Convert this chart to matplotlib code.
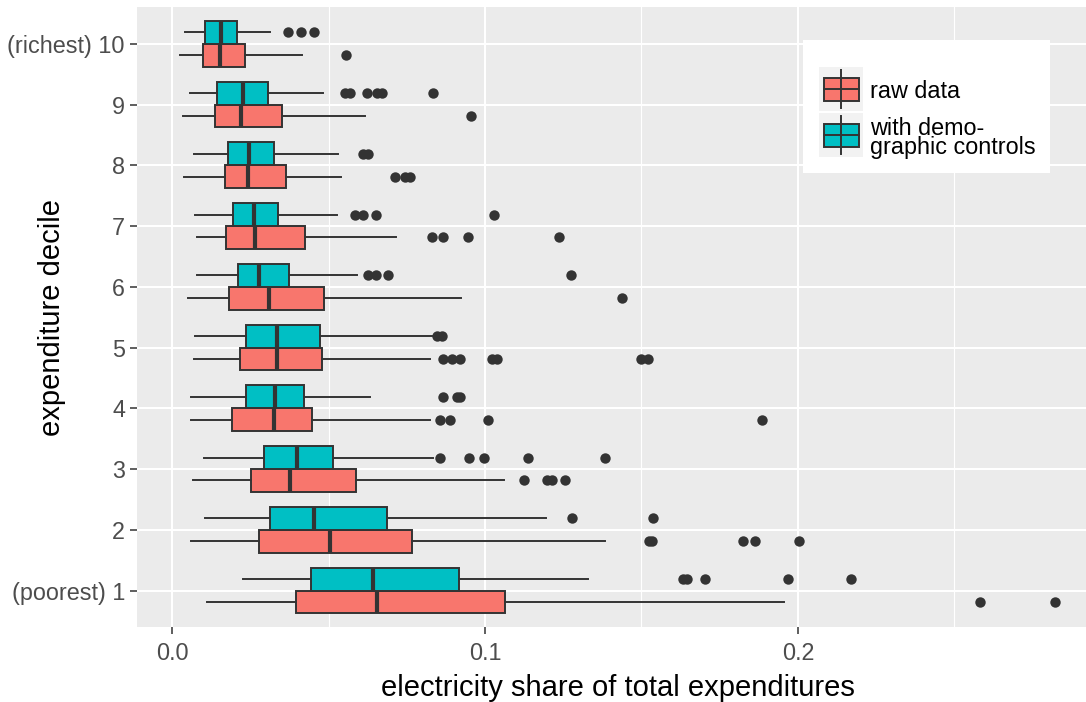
import numpy as np
import matplotlib.pyplot as plt
from matplotlib.patches import Rectangle
from matplotlib.lines import Line2D

plt.rcParams['font.family'] = ['Liberation Sans', 'DejaVu Sans']

# --------------------------------------------------
# data, deciles 1 (poorest) .. 10 (richest)
# --------------------------------------------------
deciles = np.arange(1, 11)
decile_labels = ["(poorest) 1", "2", "3", "4", "5", "6", "7", "8", "9", "(richest) 10"]
x_ticks = [0.0, 0.1, 0.2]
x_tick_labels = ["0.0", "0.1", "0.2"]

# raw data (red)
raw_whislo = [0.0111, 0.0061, 0.0066, 0.0061, 0.0068, 0.0049, 0.0079, 0.0038, 0.0033, 0.0026]
raw_q1 = [0.0395, 0.0278, 0.0251, 0.0190, 0.0215, 0.0182, 0.0173, 0.0167, 0.0135, 0.0098]
raw_med = [0.0654, 0.0503, 0.0377, 0.0324, 0.0334, 0.0310, 0.0265, 0.0242, 0.0220, 0.0153]
raw_q3 = [0.1064, 0.0766, 0.0588, 0.0446, 0.0478, 0.0486, 0.0425, 0.0363, 0.0350, 0.0231]
raw_whishi = [0.1956, 0.1383, 0.1062, 0.0824, 0.0824, 0.0923, 0.0715, 0.0540, 0.0617, 0.0414]
raw_fliers = [
    [0.2584, 0.2823],
    [0.1524, 0.1534, 0.1824, 0.1863, 0.2003],
    [0.1123, 0.1197, 0.1213, 0.1256],
    [0.0856, 0.0888, 0.1010, 0.1885],
    [0.0867, 0.0893, 0.0920, 0.1021, 0.1037, 0.1498, 0.1520],
    [0.1438],
    [0.0830, 0.0867, 0.0945, 0.1236],
    [0.0712, 0.0744, 0.0760],
    [0.0955],
    [0.0555],
]

# with demographic controls (teal)
ctl_whislo = [0.0226, 0.0103, 0.0100, 0.0061, 0.0071, 0.0079, 0.0071, 0.0068, 0.0058, 0.0042]
ctl_q1 = [0.0443, 0.0311, 0.0292, 0.0235, 0.0235, 0.0210, 0.0194, 0.0178, 0.0143, 0.0105]
ctl_med = [0.0641, 0.0454, 0.0398, 0.0329, 0.0336, 0.0278, 0.0262, 0.0244, 0.0226, 0.0156]
ctl_q3 = [0.0918, 0.0686, 0.0513, 0.0420, 0.0473, 0.0372, 0.0338, 0.0324, 0.0305, 0.0207]
ctl_whishi = [0.1330, 0.1194, 0.0833, 0.0633, 0.0830, 0.0592, 0.0528, 0.0531, 0.0483, 0.0313]
ctl_fliers = [
    [0.1632, 0.1645, 0.1703, 0.1967, 0.2169],
    [0.1277, 0.1538],
    [0.0856, 0.0949, 0.0995, 0.1138, 0.1383],
    [0.0867, 0.0910, 0.0920],
    [0.0845, 0.0862],
    [0.0624, 0.0651, 0.0691, 0.1275],
    [0.0585, 0.0611, 0.0652, 0.1027],
    [0.0611, 0.0624],
    [0.0553, 0.0569, 0.0622, 0.0654, 0.0670, 0.0833],
    [0.0370, 0.0412, 0.0454],
]

RED = "#F8766D"
TEAL = "#00BFC4"
DARK = "#333333"
PANEL = "#EBEBEB"


def make_stats(whislo, q1, med, q3, whishi, fliers):
    return [
        dict(whislo=a, q1=b, med=c, q3=d, whishi=e, fliers=f)
        for a, b, c, d, e, f in zip(whislo, q1, med, q3, whishi, fliers)
    ]


def draw_boxes(ax, stats, positions, color):
    ax.bxp(
        stats,
        positions=positions,
        widths=0.375,
        orientation="horizontal",
        patch_artist=True,
        showcaps=False,
        boxprops=dict(facecolor=color, edgecolor=DARK, linewidth=1.4),
        medianprops=dict(color=DARK, linewidth=3.0, solid_capstyle="butt"),
        whiskerprops=dict(color=DARK, linewidth=1.4),
        flierprops=dict(marker="o", markerfacecolor=DARK, markeredgecolor=DARK,
                        markersize=7.5, markeredgewidth=0),
        manage_ticks=False,
    )


# --------------------------------------------------
# figure
# --------------------------------------------------
W, H = 1086, 702
fig = plt.figure(figsize=(W / 100, H / 100), dpi=100)
ax_w = 1099 - 136.7
ax = fig.add_axes([136.7 / W, 75 / H, ax_w / W, (627 - 7.3) / H])
ax.set_facecolor(PANEL)
for s in ax.spines.values():
    s.set_visible(False)

draw_boxes(ax, make_stats(raw_whislo, raw_q1, raw_med, raw_q3, raw_whishi, raw_fliers),
           deciles - 0.1875, RED)
draw_boxes(ax, make_stats(ctl_whislo, ctl_q1, ctl_med, ctl_q3, ctl_whishi, ctl_fliers),
           deciles + 0.1875, TEAL)

ax.set_xlim(-0.0114, 0.2963)
ax.set_ylim(0.4, 10.6)
ax.set_xticks(x_ticks)
ax.set_xticklabels(x_tick_labels)
ax.set_xticks([0.05, 0.15, 0.25], minor=True)
ax.set_yticks(deciles)
ax.set_yticklabels(decile_labels)
ax.set_axisbelow(True)
ax.grid(which="major", color="white", linewidth=1.5)
ax.grid(which="minor", axis="x", color="white", linewidth=0.8)
ax.tick_params(which="major", length=5, width=1.1, color=DARK,
               labelsize=16.8, labelcolor="#4D4D4D", pad=3.5)
ax.tick_params(axis="x", which="major", pad=6)
ax.tick_params(which="minor", length=0)

ax.set_xlabel("electricity share of total expenditures", fontsize=21, labelpad=6)
ax.set_ylabel("expenditure decile", fontsize=21)
ax.yaxis.set_label_coords((66 - 136.7) / ax_w, 0.5)

# --------------------------------------------------
# legend (ggplot-style keys), in pixel units of its own box
# --------------------------------------------------
lax = fig.add_axes([803 / W, (H - 173) / H, 247 / W, 133 / H])
lax.set_xlim(0, 247)
lax.set_ylim(133, 0)
lax.set_facecolor("white")
lax.set_xticks([])
lax.set_yticks([])
for s in lax.spines.values():
    s.set_visible(False)

legend_items = [("raw data", RED), ("with demo-\ngraphic controls", TEAL)]
for i, (label, color) in enumerate(legend_items):
    top = 27 + i * 46
    lax.add_patch(Rectangle((16, top), 44, 44, facecolor="#F2F2F2", edgecolor="none"))
    cy = top + 22
    lax.add_line(Line2D([38, 38], [cy - 19, cy + 19], color=DARK, lw=1.4))
    lax.add_patch(Rectangle((20.5, cy - 11.5), 35, 23, facecolor=color,
                            edgecolor=DARK, lw=1.4))
    lax.add_line(Line2D([20.5, 55.5], [cy, cy], color=DARK, lw=1.4))
    lax.text(67, cy + 3, label, fontsize=16.8, va="center", ha="left",
             linespacing=0.8, color="black")

fig.savefig("out.png", dpi=100)
